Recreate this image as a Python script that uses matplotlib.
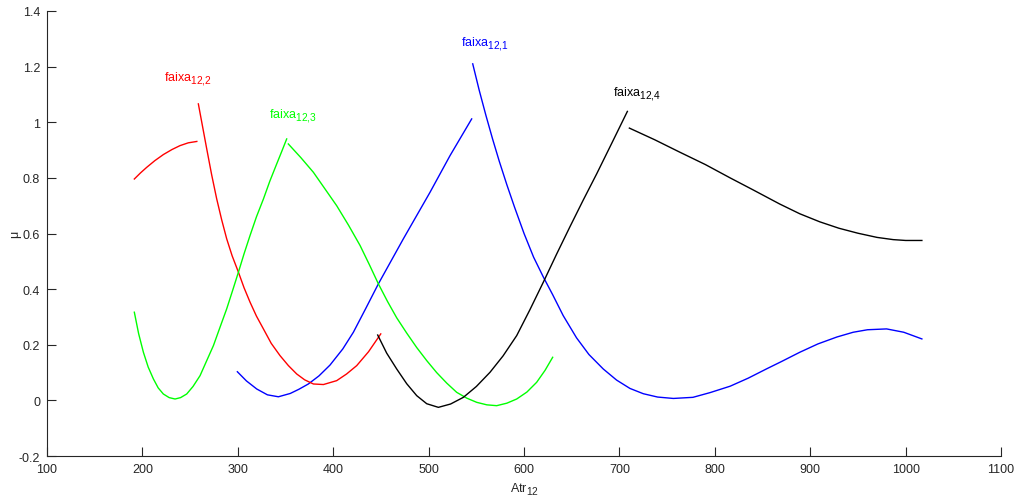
import matplotlib
matplotlib.use('Agg')
import matplotlib.pyplot as plt
import matplotlib._mathtext as mt

plt.rcParams['font.family'] = ['Liberation Sans', 'DejaVu Sans']
plt.rcParams['mathtext.fontset'] = 'custom'
plt.rcParams['mathtext.rm'] = 'Liberation Sans'
plt.rcParams['mathtext.it'] = 'Liberation Sans:italic'

# bigger and lower subscripts, like the original figure
try:
    mt.SHRINK_FACTOR = 0.82
    mt.FontConstantsBase.sub1 = 0.55
except Exception:
    pass

# faixa 12,1 (blue)
blue_x1 = [299.5, 309, 319.8, 331, 342.5, 355, 364, 373.9, 385, 396.6, 410, 421.1, 434, 447.3,
           473.5, 501.4, 522.4, 545.1]
blue_y1 = [0.103, 0.07, 0.041, 0.02, 0.013, 0.025, 0.04, 0.059, 0.088, 0.127, 0.185, 0.245,
           0.33, 0.419, 0.581, 0.748, 0.880, 1.012]
blue_x2 = [546.2, 553, 560, 567, 574, 582, 590, 600, 610, 620, 630, 641, 655, 668, 683, 697,
           711, 725, 740, 756.5, 777, 795, 816, 835, 854, 870, 889, 908, 928, 945, 960, 980,
           998, 1017]
blue_y2 = [1.21, 1.115, 1.025, 0.94, 0.86, 0.775, 0.695, 0.60, 0.515, 0.445, 0.38, 0.305,
           0.225, 0.165, 0.113, 0.073, 0.043, 0.024, 0.012, 0.007, 0.011, 0.028, 0.051, 0.08,
           0.113, 0.14, 0.173, 0.203, 0.228, 0.245, 0.254, 0.257, 0.245, 0.221]

# faixa 12,2 (red)
red_x1 = [191.5, 198, 204.5, 213, 222, 231, 239.4, 248, 257]
red_y1 = [0.796, 0.818, 0.838, 0.862, 0.884, 0.902, 0.916, 0.926, 0.931]
red_x2 = [258.6, 263, 267.4, 272.5, 277.8, 283, 288.3, 294, 300.6, 306.5, 312.8, 319.5, 326.8,
          335, 344.2, 353, 361.7, 370, 379.2, 389.7, 403.6, 414, 424.6, 437, 449.8]
red_y2 = [1.066, 0.985, 0.904, 0.812, 0.725, 0.65, 0.581, 0.52, 0.461, 0.405, 0.353, 0.303,
          0.257, 0.205, 0.161, 0.125, 0.095, 0.074, 0.059, 0.057, 0.071, 0.095, 0.125, 0.175,
          0.239]

# faixa 12,3 (green)
green_x1 = [191.5, 196, 201, 206, 211.5, 216.5, 221.9, 228, 234.2, 240, 246.4, 253, 260.4, 267,
            274.4, 281, 288.3, 294.5, 300.6, 306.5, 312.8, 319.5, 326.8, 333.5, 340.7, 346,
            351.2]
green_y1 = [0.317, 0.24, 0.173, 0.12, 0.077, 0.045, 0.023, 0.01, 0.005, 0.01, 0.023, 0.05,
            0.089, 0.14, 0.197, 0.26, 0.329, 0.395, 0.461, 0.527, 0.593, 0.66, 0.724, 0.788,
            0.850, 0.895, 0.940]
green_x2 = [352.9, 366, 379.2, 391, 403.6, 416, 428.1, 438, 447.3, 457, 466.5, 477, 487.5, 498,
            508.4, 519, 529.4, 540, 550.4, 561, 571.3, 582, 592.3, 603, 613.2, 622, 630]
green_y2 = [0.922, 0.873, 0.820, 0.762, 0.700, 0.63, 0.557, 0.487, 0.419, 0.355, 0.297, 0.242,
            0.19, 0.143, 0.1, 0.062, 0.029, 0.008, -0.007, -0.016, -0.019, -0.01, 0.005,
            0.03, 0.065, 0.108, 0.155]

# faixa 12,4 (black)
black_x1 = [446.6, 456, 466.5, 477, 487.5, 498, 510.2, 523, 536.4, 550, 564.3, 578, 592.3, 606,
            620.2, 634, 648.2, 662, 676.2, 692, 708.3]
black_y1 = [0.235, 0.17, 0.113, 0.06, 0.017, -0.012, -0.025, -0.013, 0.011, 0.05, 0.101, 0.16,
            0.233, 0.325, 0.425, 0.525, 0.625, 0.72, 0.815, 0.925, 1.039]
black_x2 = [710.4, 737, 763.5, 790, 816, 840, 868, 889, 910, 930, 950, 970, 987, 1000, 1017]
black_y2 = [0.979, 0.937, 0.892, 0.848, 0.80, 0.757, 0.706, 0.671, 0.642, 0.619, 0.601, 0.586,
            0.578, 0.575, 0.575]

labels = ['faixa$_{\\mathrm{12{,}1}}$', 'faixa$_{\\mathrm{12{,}2}}$',
          'faixa$_{\\mathrm{12{,}3}}$', 'faixa$_{\\mathrm{12{,}4}}$']
label_x = [534, 222.6, 332.7, 693.3]
label_y = [1.282, 1.156, 1.023, 1.102]
colors = ['#0000ff', '#ff0000', '#00ff00', '#000000']

fig = plt.figure(figsize=(10.16, 5.02), dpi=100)
ax = fig.add_axes([0.0463, 0.0896, 0.939, 0.8865])

segs = [(blue_x1, blue_y1, 0), (blue_x2, blue_y2, 0),
        (red_x1, red_y1, 1), (red_x2, red_y2, 1),
        (green_x1, green_y1, 2), (green_x2, green_y2, 2),
        (black_x1, black_y1, 3), (black_x2, black_y2, 3)]
for xs, ys, i in segs:
    ax.plot(xs, ys, color=colors[i], lw=1.0, solid_joinstyle='round')

for i in range(4):
    ax.text(label_x[i], label_y[i], labels[i], color=colors[i], fontsize=9,
            ha='left', va='center')

ax.set_xlim(100, 1100)
ax.set_ylim(-0.2, 1.4)
ax.set_xticks(range(100, 1101, 100))
ax.set_yticks([-0.2, 0, 0.2, 0.4, 0.6, 0.8, 1, 1.2, 1.4])
ax.set_yticklabels(['-0.2', '0', '0.2', '0.4', '0.6', '0.8', '1', '1.2', '1.4'])
ax.spines['top'].set_visible(False)
ax.spines['right'].set_visible(False)
for s in ['left', 'bottom']:
    ax.spines[s].set_color('#262626')
    ax.spines[s].set_linewidth(0.8)
ax.tick_params(direction='in', length=6.5, width=0.8, colors='#262626', labelsize=9,
               labelcolor='#262626', pad=5)
ax.set_xlabel('Atr$_{\\mathrm{12}}$', fontsize=9, color='#262626', labelpad=4)
ax.set_ylabel('μ', fontsize=9, color='#262626', labelpad=-2)

fig.savefig('out.png', dpi=100)
